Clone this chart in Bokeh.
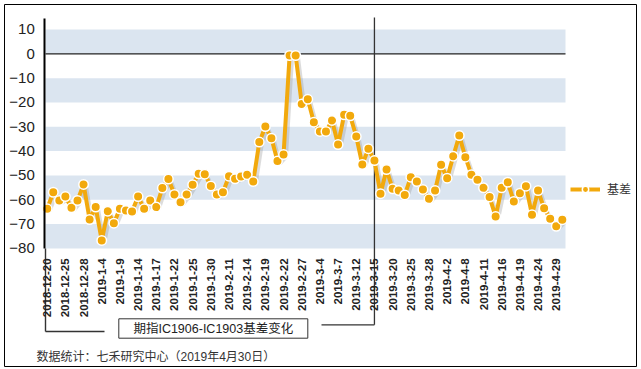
import math
from bokeh.plotting import figure
from bokeh.models import Range1d, FixedTicker, LinearAxis, Label, Legend, LegendItem
from bokeh.embed import file_html
from bokeh.resources import INLINE

dates = [
    "2018-12-20", "2018-12-21", "2018-12-24", "2018-12-25", "2018-12-26", "2018-12-27", "2018-12-28",
    "2019-1-2", "2019-1-3", "2019-1-4", "2019-1-7", "2019-1-8", "2019-1-9", "2019-1-10", "2019-1-11",
    "2019-1-14", "2019-1-15", "2019-1-16", "2019-1-17", "2019-1-18", "2019-1-21", "2019-1-22",
    "2019-1-23", "2019-1-24", "2019-1-25", "2019-1-28", "2019-1-29", "2019-1-30", "2019-1-31",
    "2019-2-1", "2019-2-11", "2019-2-12", "2019-2-13", "2019-2-14", "2019-2-15", "2019-2-18",
    "2019-2-19", "2019-2-20", "2019-2-21", "2019-2-22", "2019-2-25", "2019-2-26", "2019-2-27",
    "2019-2-28", "2019-3-1", "2019-3-4", "2019-3-5", "2019-3-6", "2019-3-7", "2019-3-8",
    "2019-3-11", "2019-3-12", "2019-3-13", "2019-3-14", "2019-3-15", "2019-3-18", "2019-3-19",
    "2019-3-20", "2019-3-21", "2019-3-22", "2019-3-25", "2019-3-26", "2019-3-27", "2019-3-28",
    "2019-3-29", "2019-4-1", "2019-4-2", "2019-4-3", "2019-4-4", "2019-4-8", "2019-4-9",
    "2019-4-10", "2019-4-11", "2019-4-12", "2019-4-15", "2019-4-16", "2019-4-17", "2019-4-18",
    "2019-4-19", "2019-4-22", "2019-4-23", "2019-4-24", "2019-4-25", "2019-4-26", "2019-4-29",
    "2019-4-30",
]

basis = [
    -63.7, -56.9, -60.3, -58.7, -63.3, -60.3, -53.7, -68.1, -63.0, -76.7,
    -64.7, -69.6, -63.7, -64.4, -64.8, -58.7, -63.7, -60.3, -63.0, -55.2,
    -51.5, -57.8, -61.0, -57.8, -53.8, -49.3, -49.5, -54.3, -57.8, -56.9,
    -50.3, -51.4, -50.4, -49.7, -52.5, -36.3, -29.9, -34.7, -44.1, -41.4,
    -0.7, -0.7, -20.6, -18.7, -28.1, -31.9, -31.9, -27.4, -37.3, -25.1,
    -25.5, -34.0, -45.5, -39.0, -43.9, -57.5, -47.6, -55.5, -56.2, -58.0,
    -50.7, -52.5, -55.8, -59.6, -56.2, -45.6, -51.1, -42.1, -33.6, -42.5,
    -49.7, -51.8, -55.1, -58.9, -66.9, -55.1, -52.8, -60.7, -57.3, -54.4,
    -66.2, -56.2, -63.5, -67.8, -70.9, -68.2,
]

x_tick_idx = list(range(0, len(dates), 3))
y_ticks = [10, 0, -10, -20, -30, -40, -50, -60, -70, -80]
series_name = "基差"
box_title = "期指IC1906-IC1903基差变化"
source_note = "数据统计：七禾研究中心（2019年4月30日）"
marker_date = "2019-3-15"

# ---- pixel layout (canvas == frame) ----
W, H = 641, 369
PX0, DX = 46.7, 6.06     # pixel x of first category, pixels per category
PY0, DY = 53.3, 2.433    # pixel y of value 0, pixels per unit


def dx(px):
    return (px - PX0) / DX


def dy(py):
    return (PY0 - py) / DY


xs = list(range(len(dates)))
x_left, x_right = dx(45.0), dx(565.0)
y_top, y_bot = dy(18.0), min(y_ticks)

p = figure(width=W, height=H, output_backend="svg", toolbar_location=None,
           x_range=Range1d(dx(0), dx(W)), y_range=Range1d(dy(H), dy(0)),
           x_axis_location=None, y_axis_location=None,
           min_border=0, min_border_left=0, min_border_right=0,
           min_border_top=0, min_border_bottom=0)
p.outline_line_color = None
p.background_fill_color = "white"
p.border_fill_color = "white"
for g in p.grid:
    g.visible = False

# outer border
p.quad(left=[dx(4)], right=[dx(636)], top=[dy(4)], bottom=[dy(366)],
       fill_alpha=0, line_color="black", line_width=1)

# bands between alternate ticks
ts = sorted(y_ticks)
band_b = [ts[i] for i in range(0, len(ts) - 1, 2)]
band_t = [ts[i + 1] for i in range(0, len(ts) - 1, 2)]
p.quad(left=x_left, right=x_right, bottom=band_b, top=band_t,
       fill_color="#dbe5f0", line_color=None)

# zero line
p.segment(x0=[x_left], y0=[0], x1=[x_right], y1=[0], line_color="#222222", line_width=1.3)

# marker line at 2019-3-15 with elbow to the caption box
mi = dates.index(marker_date)
p.segment(x0=[mi, dx(321)], y0=[dy(17), dy(324.3)], x1=[mi, mi], y1=[dy(324.3), dy(324.3)],
          line_color="#333333", line_width=1.3)
# left bracket
p.segment(x0=[x_left, x_left], y0=[y_bot, dy(331)], x1=[x_left, dx(104)], y1=[dy(331), dy(331)],
          line_color="#333333", line_width=1.4)
# caption box
p.quad(left=[dx(118.3)], right=[dx(307.3)], top=[dy(318.3)], bottom=[dy(337.7)],
       fill_alpha=0, line_color="#333333", line_width=1)
p.add_layout(Label(x=dx(212.8), y=dy(328), text=box_title,
                   text_font="Liberation Sans, Noto Sans CJK SC", text_font_size="12.5px",
                   text_color="#222222", text_align="center", text_baseline="middle"))
p.add_layout(Label(x=dx(36), y=dy(356.5), text=source_note,
                   text_font="Liberation Sans, Noto Sans CJK SC", text_font_size="12px",
                   text_color="#333333", text_align="left", text_baseline="middle"))

# shadow, line, markers
p.line([x + 0.4 for x in xs], [v - 1.0 for v in basis], line_color="#9a9a9a", line_alpha=0.35, line_width=4)
line_r = p.line(xs, basis, line_color="#f2a90c", line_width=4)
dot_r = p.scatter(xs, basis, size=9.5, fill_color="#f2a90c", line_color="white", line_width=1.5)

# axes placed at fixed locations
yaxis = LinearAxis(fixed_location=dx(44.3), bounds=(y_bot, y_top),
                   ticker=FixedTicker(ticks=y_ticks))
yaxis.axis_line_color = "black"
yaxis.axis_line_width = 2
yaxis.major_tick_line_color = None
yaxis.minor_tick_line_color = None
yaxis.major_label_text_font = "Liberation Sans"
yaxis.major_label_text_font_size = "15px"
yaxis.major_label_text_color = "#222222"
yaxis.major_label_standoff = 4
p.add_layout(yaxis, "left")

xaxis = LinearAxis(fixed_location=y_bot, ticker=FixedTicker(ticks=x_tick_idx),
                   major_label_overrides={i: dates[i] for i in x_tick_idx})
xaxis.axis_line_color = None
xaxis.major_tick_line_color = None
xaxis.minor_tick_line_color = None
xaxis.major_label_orientation = math.pi / 2
xaxis.major_label_text_font = "Liberation Sans"
xaxis.major_label_text_font_style = "bold"
xaxis.major_label_text_font_size = "11.5px"
xaxis.major_label_text_color = "#222222"
xaxis.major_label_standoff = 4
p.add_layout(xaxis, "below")

legend = Legend(items=[LegendItem(label=series_name, renderers=[line_r, dot_r])],
                location=(570, H - 189 - 8), padding=0, margin=0, spacing=0,
                glyph_width=30, glyph_height=16, label_standoff=7, label_height=16,
                label_text_font="Noto Sans CJK SC", label_text_font_size="12px",
                label_text_color="#333333", background_fill_alpha=0, border_line_color=None)
p.add_layout(legend)

open("out.html", "w").write(file_html(p, INLINE))
